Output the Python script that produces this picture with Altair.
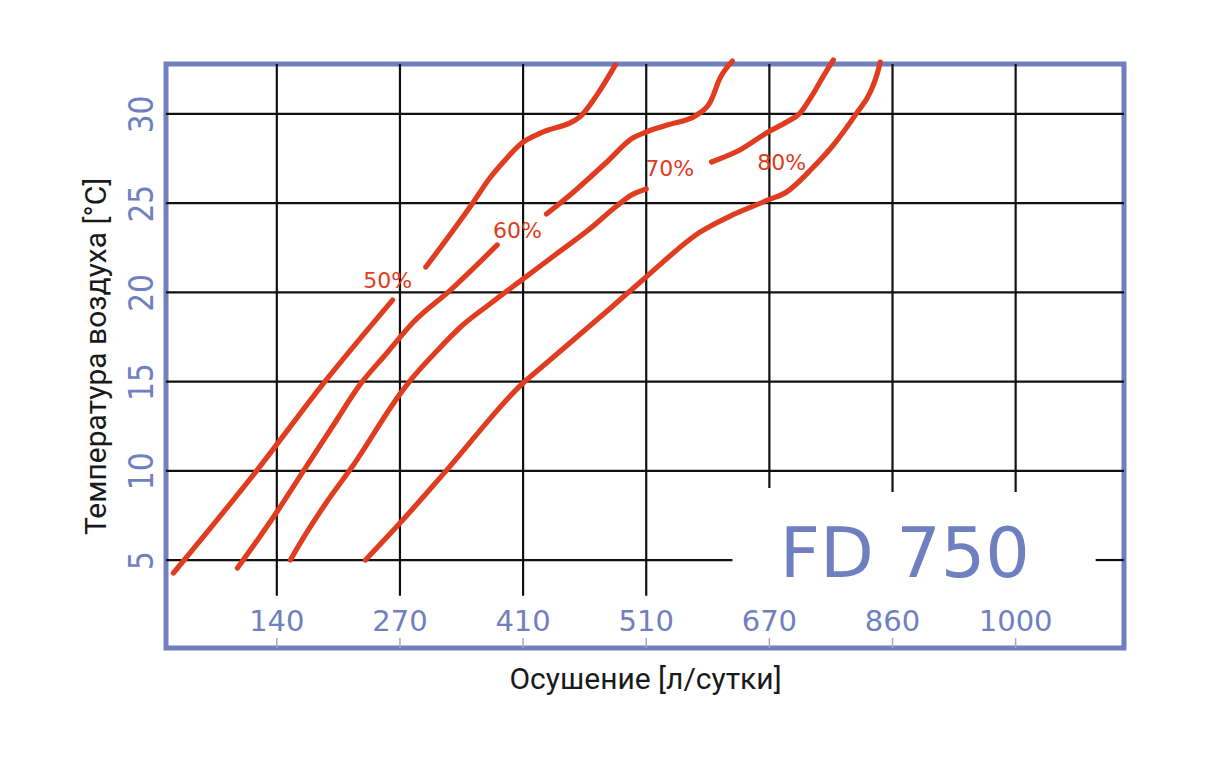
import altair as alt
import pandas as pd

# ---- axis ticks (x positions are tick-index units, labelled below) ----
x_tick_pos = [1, 2, 3, 4, 5, 6, 7]
x_tick_labels = ["140", "270", "410", "510", "670", "860", "1000"]
y_ticks = [5, 10, 15, 20, 25, 30]

# ---- humidity curves (x in tick-index units, y in °C) ----
rh50_low_x = [0.16, 0.84, 1.39, 1.94]
rh50_low_y = [4.27, 10.04, 15.0, 19.57]
rh50_up_x = [2.21, 2.59, 2.73, 2.84, 2.99, 3.14, 3.46, 3.60, 3.75]
rh50_up_y = [21.42, 25.0, 26.41, 27.31, 28.37, 28.93, 29.83, 31.07, 32.75]

rh60_low_x = [0.68, 1.0, 1.21, 1.46, 1.68, 1.88, 2.11, 2.41, 2.79]
rh60_low_y = [4.55, 7.69, 9.93, 12.57, 14.87, 16.49, 18.34, 20.13, 22.66]
rh60_up_x = [3.19, 3.41, 3.68, 3.89, 4.0, 4.17, 4.41, 4.52, 4.60, 4.70]
rh60_up_y = [24.39, 25.63, 27.31, 28.65, 28.99, 29.38, 29.94, 30.67, 32.02, 32.97]

rh70_low_x = [1.11, 1.19, 1.40, 1.61, 2.0, 2.08, 2.30, 2.51, 2.73, 2.99, 3.27, 3.54,
              3.76, 3.88, 4.0]
rh70_low_y = [5.0, 5.95, 8.20, 10.21, 14.30, 15.03, 16.72, 18.17, 19.35, 20.70, 22.15,
              23.55, 24.84, 25.46, 25.80]
rh70_up_x = [4.53, 4.76, 4.99, 5.14, 5.25, 5.35, 5.43, 5.52]
rh70_up_y = [27.31, 27.98, 28.99, 29.55, 30.06, 31.07, 32.02, 33.03]

rh80_x = [1.72, 2.0, 2.38, 3.0, 3.19, 3.73, 3.99, 4.44, 4.70, 4.99, 5.14,
          5.35, 5.52, 5.71, 5.82, 5.88, 5.90]
rh80_y = [5.0, 7.07, 10.04, 14.92, 16.04, 19.24, 20.81, 23.39, 24.34, 25.18,
          25.63, 26.97, 28.26, 30.06, 31.23, 32.35, 32.91]

# ---- curve labels ----
lbl_text = ["50%", "60%", "70%", "80%"]
lbl_x = [1.90, 2.955, 4.19, 5.10]
lbl_y = [20.64, 23.44, 26.89, 27.23]

# ---- grid segments ----
hgrid_y = [30, 25, 20, 15, 10, 5, 5]
hgrid_x1 = [0.1, 0.1, 0.1, 0.1, 0.1, 0.1, 7.65]
hgrid_x2 = [7.88, 7.88, 7.88, 7.88, 7.88, 4.70, 7.88]
vgrid_x = [1, 2, 3, 4, 5, 6, 7]
vgrid_y1 = [3.0, 3.0, 3.0, 3.0, 9.04, 8.81, 8.81]
vgrid_y2 = [32.8] * 7

model_name = "FD 750"

X_DOM = [0.1, 7.88]
Y_DOM = [0.07, 32.8]
BLUE = "#6f7fc0"
RED = "#e03c1f"

xs = alt.Scale(domain=X_DOM, nice=False, zero=False)
ys = alt.Scale(domain=Y_DOM, nice=False, zero=False)

segs = [
    ("50a", rh50_low_x, rh50_low_y), ("50b", rh50_up_x, rh50_up_y),
    ("60a", rh60_low_x, rh60_low_y), ("60b", rh60_up_x, rh60_up_y),
    ("70a", rh70_low_x, rh70_low_y), ("70b", rh70_up_x, rh70_up_y),
    ("80", rh80_x, rh80_y),
]
rows = []
for name, xv, yv in segs:
    for k, (a, b) in enumerate(zip(xv, yv)):
        rows.append({"seg": name, "ord": k, "x": a, "y": b})
curves = pd.DataFrame(rows)

hgrid = pd.DataFrame({"y": hgrid_y, "x1": hgrid_x1, "x2": hgrid_x2})
vgrid = pd.DataFrame({"x": vgrid_x, "y1": vgrid_y1, "y2": vgrid_y2})
bticks = pd.DataFrame({"x": x_tick_pos, "y1": [Y_DOM[0]] * 7, "y2": [0.63] * 7})
xlabels = pd.DataFrame({"x": x_tick_pos, "y": [1.05] * 7, "t": x_tick_labels})
labels = pd.DataFrame({"x": lbl_x, "y": lbl_y, "t": lbl_text})
model = pd.DataFrame({"x": [6.10], "y": [4.05], "t": [model_name]})

x_axis = alt.Axis(
    title="Осушение [л/сутки]", labels=False, ticks=False, domain=False, grid=False,
    titleFont="Roboto", titleFontSize=30, titleFontWeight="normal", titleColor="#1a1a1a",
    titleX=479, titleY=40, titleBaseline="alphabetic", titleAlign="center",
)
y_axis = alt.Axis(
    values=y_ticks, labelAngle=270, labelAlign="center", labelBaseline="alphabetic",
    labelPadding=14, labelFont="Liberation Sans Narrow, DejaVu Sans Condensed, sans-serif",
    labelFontSize=33, labelColor=BLUE, labelFlush=False, labelOverlap=False,
    ticks=False, domain=False, grid=False,
    title="Температура воздуха [°C]", titleFont="Roboto", titleFontSize=30,
    titleFontWeight="normal", titleColor="#1a1a1a", titleAngle=270,
    titleX=-61, titleY=292, titleBaseline="alphabetic", titleAlign="center",
)


def X(f):
    return alt.X(f, scale=xs, axis=x_axis)


def Y(f):
    return alt.Y(f, scale=ys, axis=y_axis)


h_layer = alt.Chart(hgrid).mark_rule(color="#111111", strokeWidth=2.2).encode(
    y=Y("y:Q"), x=X("x1:Q"), x2="x2:Q",
)
v_layer = alt.Chart(vgrid).mark_rule(color="#111111", strokeWidth=2.2).encode(
    x=X("x:Q"), y=Y("y1:Q"), y2="y2:Q",
)
b_layer = alt.Chart(bticks).mark_rule(color="#aaaaaa", strokeWidth=1.5).encode(
    x=X("x:Q"), y=Y("y1:Q"), y2="y2:Q",
)
c_layer = alt.Chart(curves).mark_line(
    color=RED, strokeWidth=5.2, strokeCap="round", strokeJoin="round", interpolate="monotone"
).encode(
    x=X("x:Q"), y=Y("y:Q"), detail="seg:N", order="ord:Q",
)
l_layer = alt.Chart(labels).mark_text(
    color=RED, font="DejaVu Sans", fontSize=22, align="center", baseline="middle"
).encode(x=X("x:Q"), y=Y("y:Q"), text="t:N")
xl_layer = alt.Chart(xlabels).mark_text(
    color=BLUE, font="DejaVu Sans", fontSize=29, align="center", baseline="alphabetic"
).encode(x=X("x:Q"), y=Y("y:Q"), text="t:N")
m_layer = alt.Chart(model).mark_text(
    color=BLUE, font="DejaVu Sans", fontSize=70, align="center", baseline="alphabetic"
).encode(x=X("x:Q"), y=Y("y:Q"), text="t:N")

chart = alt.layer(h_layer, v_layer, b_layer, c_layer, l_layer, xl_layer, m_layer).properties(
    width=958, height=584,
    autosize=alt.AutoSizeParams(type="none"),
    padding={"left": 158, "top": 56, "right": 80, "bottom": 110},
    background="white",
).configure_view(stroke=BLUE, strokeWidth=5)

chart.save("out.html", embed_options={"renderer": "svg", "actions": False})
